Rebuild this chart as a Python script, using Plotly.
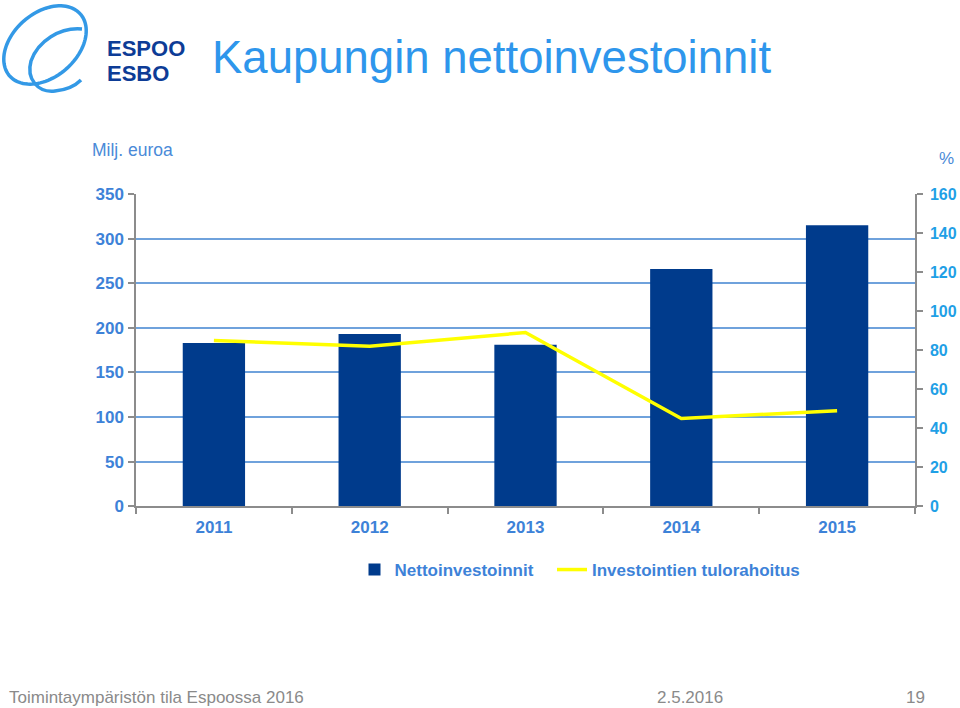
import numpy as np
import plotly.graph_objects as go

W, H = 960, 708

years = ["2011", "2012", "2013", "2014", "2015"]
netto = [183, 193, 181, 266, 315]
tulorahoitus = [85, 82, 89, 45, 49]
left_ticks = [0, 50, 100, 150, 200, 250, 300, 350]
right_ticks = [0, 20, 40, 60, 80, 100, 120, 140, 160]

BAR = "#003B8C"
YEL = "#FFFF00"
GRID = "#6FA2DC"
AX = "#8C8C8C"
LBL = "#3D82D8"
RLBL = "#1FA0E6"
TITLE = "#2E96EC"
FONT = "Liberation Sans, Arial, sans-serif"

def px(x):
    return x / W

def py(y):
    return 1 - y / H

fig = go.Figure()
fig.add_trace(go.Bar(x=years, y=netto, name="Nettoinvestoinnit",
                     marker=dict(color=BAR, line=dict(width=0)), yaxis="y", legend="legend"))
fig.add_trace(go.Scatter(x=years, y=tulorahoitus, name="Investointien tulorahoitus",
                         mode="lines", line=dict(color=YEL, width=3.5), yaxis="y2", legend="legend2"))

legfont = dict(family=FONT, size=17, color=LBL, weight="bold")
fig.update_layout(
    width=W, height=H,
    margin=dict(l=0, r=0, t=0, b=0, autoexpand=False),
    paper_bgcolor="white", plot_bgcolor="white",
    bargap=0.6,
    showlegend=True,
    legend=dict(orientation="h", x=px(354.5), y=py(570), xanchor="left", yanchor="middle",
                font=legfont, bgcolor="rgba(0,0,0,0)", itemwidth=30),
    legend2=dict(orientation="h", x=px(552), y=py(570), xanchor="left", yanchor="middle",
                 font=legfont, bgcolor="rgba(0,0,0,0)", itemwidth=30),
    xaxis=dict(domain=[px(136), px(915)], type="category", showgrid=False, automargin=False,
               showline=True, linecolor=AX, linewidth=1.5,
               ticks="outside", tickson="boundaries", ticklen=6, tickcolor=AX, tickwidth=1.5,
               ticklabelstandoff=5,
               tickfont=dict(family=FONT, size=17, color=LBL, weight="bold"), anchor="y"),
    yaxis=dict(domain=[py(506.3), py(194)], range=[0, 350], tickvals=left_ticks, automargin=False,
               showgrid=True, gridcolor=GRID, gridwidth=1.5, zeroline=False,
               showline=True, linecolor=AX, linewidth=1.5,
               ticks="outside", ticklen=6, tickcolor=AX, tickwidth=1.5,
               ticklabelstandoff=1,
               tickfont=dict(family=FONT, size=17, color=LBL, weight="bold"), anchor="x"),
    yaxis2=dict(range=[0, 160], tickvals=right_ticks, overlaying="y", side="right", automargin=False,
                showgrid=False, zeroline=False,
                showline=True, linecolor=AX, linewidth=1.5,
                ticks="outside", ticklen=6, tickcolor=AX, tickwidth=1.5,
                ticklabelstandoff=4,
                tickfont=dict(family=FONT, size=16, color=RLBL, weight="bold"), anchor="x"),
)

def note(text, x, y, size, color, xanchor="left", bold=False):
    f = dict(family=FONT, size=size, color=color)
    if bold:
        f["weight"] = "bold"
    return dict(text=text, x=px(x), y=py(y), xref="paper", yref="paper",
                xanchor=xanchor, yanchor="middle", showarrow=False, font=f)

ann = [
    note("Kaupungin nettoinvestoinnit", 210, 57.5, 45.5, TITLE),
    note("ESPOO", 105, 48.5, 22, "#0D3C96", bold=True),
    note("ESBO", 105, 73.5, 22, "#0D3C96", bold=True),
    note("Milj. euroa", 90, 150, 17.5, "#4A8AD8"),
    note("%", 946, 158, 17, "#4A8AD8", xanchor="center"),
    note("Toimintaympäristön tila Espoossa 2016", 7, 697, 17, "#8A8A8A"),
    note("2.5.2016", 690, 697, 17, "#8A8A8A", xanchor="center"),
    note("19", 915, 697, 17, "#8A8A8A", xanchor="center"),
]
fig.update_layout(annotations=ann)

# logo swirl (decoration)
t = np.linspace(0, 2 * np.pi, 100)
cx, cy, a, b, rot = 45, 45, 47, 32, np.deg2rad(-41)
ex = cx + a * np.cos(t) * np.cos(rot) - b * np.sin(t) * np.sin(rot)
ey = cy + a * np.cos(t) * np.sin(rot) + b * np.sin(t) * np.cos(rot)
path = "M " + " L ".join(f"{px(x):.5f},{py(y):.5f}" for x, y in zip(ex, ey))
inner_pts = [(82, 29), (60, 27), (38, 41), (31, 61), (26, 79), (38, 93), (55, 91), (66, 90), (75, 86), (81, 80)]
p2 = "M {:.5f},{:.5f} C {:.5f},{:.5f} {:.5f},{:.5f} {:.5f},{:.5f} C {:.5f},{:.5f} {:.5f},{:.5f} {:.5f},{:.5f} C {:.5f},{:.5f} {:.5f},{:.5f} {:.5f},{:.5f}".format(
    *sum([[px(x), py(y)] for x, y in inner_pts], []))
shapes = [
    dict(type="path", path=path, xref="paper", yref="paper", line=dict(color="#3399E6", width=3.5)),
    dict(type="path", path=p2, xref="paper", yref="paper", line=dict(color="#3399E6", width=3.5)),
]
fig.update_layout(shapes=shapes)

fig.write_html("out.html", config={"displayModeBar": False},
               post_script="document.body.style.margin='0';document.body.style.overflow='hidden';")
